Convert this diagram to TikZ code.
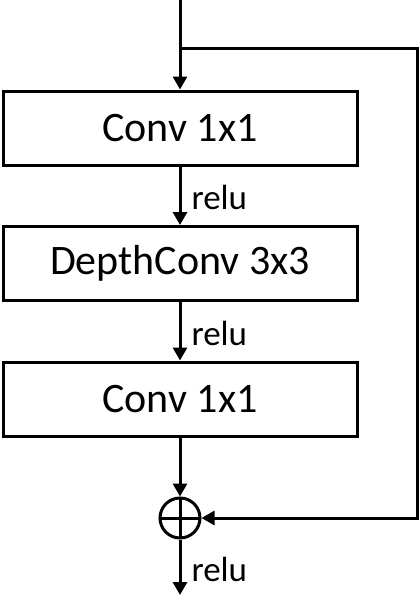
\documentclass[tikz,border=0pt]{standalone}
\usepackage{fontspec}
\setmainfont{Carlito}
\usetikzlibrary{arrows.meta,positioning}

\tikzset{
  layer/.style={draw, line width=3pt, minimum width=354pt, minimum height=74pt,
    inner sep=0pt, font=\fontsize{42}{50}\selectfont},
  flow/.style={line width=3pt, -{Triangle[width=14pt,length=13pt]}},
  act/.style={anchor=west, inner sep=0pt, font=\fontsize{35}{42}\selectfont},
  adder/.style={draw, circle, line width=3pt, minimum size=40pt, inner sep=0pt,
    path picture={\draw[line width=3pt] (path picture bounding box.north) -- (path picture bounding box.south)
      (path picture bounding box.west) -- (path picture bounding box.east);}}
}

\begin{document}
\begin{tikzpicture}[x=1pt,y=-1pt]
  \useasboundingbox (0,0) rectangle (420,595);

  % bloques
  \node[layer] (conv1) at (180,128) {Conv 1x1};
  \node[layer] (dwconv) at (180,263.5) {DepthConv 3x3};
  \node[layer] (conv2) at (180,399) {Conv 1x1};
  \node[adder] (sum) at (180,518) {};

  % entrada y salida
  \coordinate (in) at (180,0);
  \coordinate (split) at (180,48);
  \coordinate (out) at (180,595);
  \coordinate (skipA) at (417,48);
  \coordinate (skipB) at (417,518);

  % flechas
  \draw[flow] (in) -- (conv1);
  \draw[flow] (conv1) -- (dwconv) node[act, midway, xshift=10pt, yshift=-2pt] (r1) {relu};
  \draw[flow] (dwconv) -- (conv2) node[act, midway, xshift=10pt, yshift=-2pt] (r2) {relu};
  \draw[flow] (conv2) -- (sum);
  \draw[flow] (sum) -- (out) node[act, pos=0.5, xshift=10pt, yshift=-2pt] (r3) {relu};

  % atajo
  \draw[flow, line join=miter] (split) -- (skipA) -- (skipB) -- (sum);
\end{tikzpicture}
\end{document}
